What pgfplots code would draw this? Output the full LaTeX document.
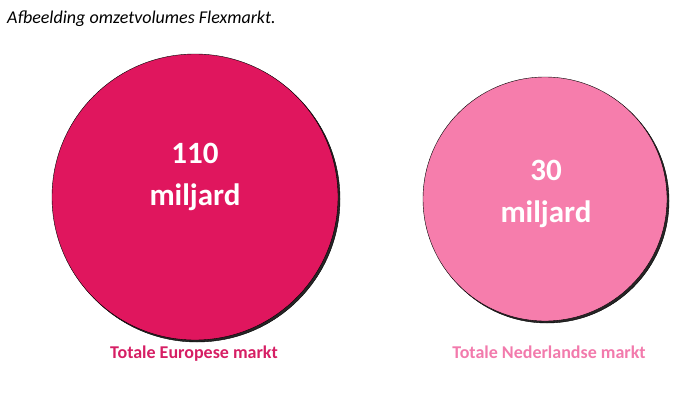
\documentclass[border=0pt]{standalone}
\usepackage{pgfplots}
\pgfplotsset{compat=1.18}
\usepackage{fontspec}
\setmainfont{Carlito}
\definecolor{bigpink}{RGB}{224,22,94}
\definecolor{smallpink}{RGB}{246,125,172}
\definecolor{lab1}{RGB}{214,30,100}
\definecolor{lab2}{RGB}{242,122,172}
\begin{document}
\begin{tikzpicture}
\begin{axis}[
  name=ax,
  x=1pt, y=1pt,
  xmin=0, xmax=692, ymin=0, ymax=392,
  hide axis, clip=false,
  scale only axis,
]
% shadows
\addplot[only marks, mark=*, mark size=143pt, mark options={fill=black!85, draw=none}] coordinates {(197,193)};
\addplot[only marks, mark=*, mark size=122pt, mark options={fill=black!85, draw=none}] coordinates {(547,191)};
% circles
\addplot[only marks, mark=*, mark size=143pt, mark options={fill=bigpink, draw=none}] coordinates {(195,195)};
\addplot[only marks, mark=*, mark size=122pt, mark options={fill=smallpink, draw=none}] coordinates {(545,193)};
\coordinate (t1) at (axis cs:195,229);
\coordinate (t2) at (axis cs:195,187);
\coordinate (t3) at (axis cs:546,212);
\coordinate (t4) at (axis cs:546,170);
\coordinate (l1) at (axis cs:194,34);
\coordinate (l2) at (axis cs:549,34);
\coordinate (tt) at (axis cs:7,369);
\coordinate (sw) at (axis cs:0,0);
\coordinate (ne) at (axis cs:692,392);
\end{axis}
\node[anchor=base, text=white, font=\bfseries\fontsize{31}{36}\selectfont] at (t1) {110};
\node[anchor=base, text=white, font=\bfseries\fontsize{31}{36}\selectfont] at (t2) {miljard};
\node[anchor=base, text=white, font=\bfseries\fontsize{31}{36}\selectfont] at (t3) {30};
\node[anchor=base, text=white, font=\bfseries\fontsize{31}{36}\selectfont] at (t4) {miljard};
\node[anchor=base, text=lab1, font=\bfseries\fontsize{18}{21}\selectfont] at (l1) {Totale Europese markt};
\node[anchor=base, text=lab2, font=\bfseries\fontsize{18}{21}\selectfont] at (l2) {Totale Nederlandse markt};
\node[anchor=base west, inner sep=0pt, font=\itshape\fontsize{18}{21}\selectfont] at (tt) {Afbeelding omzetvolumes Flexmarkt.};
\pgfresetboundingbox
\path[use as bounding box] (sw) rectangle (ne);
\end{tikzpicture}
\end{document}
